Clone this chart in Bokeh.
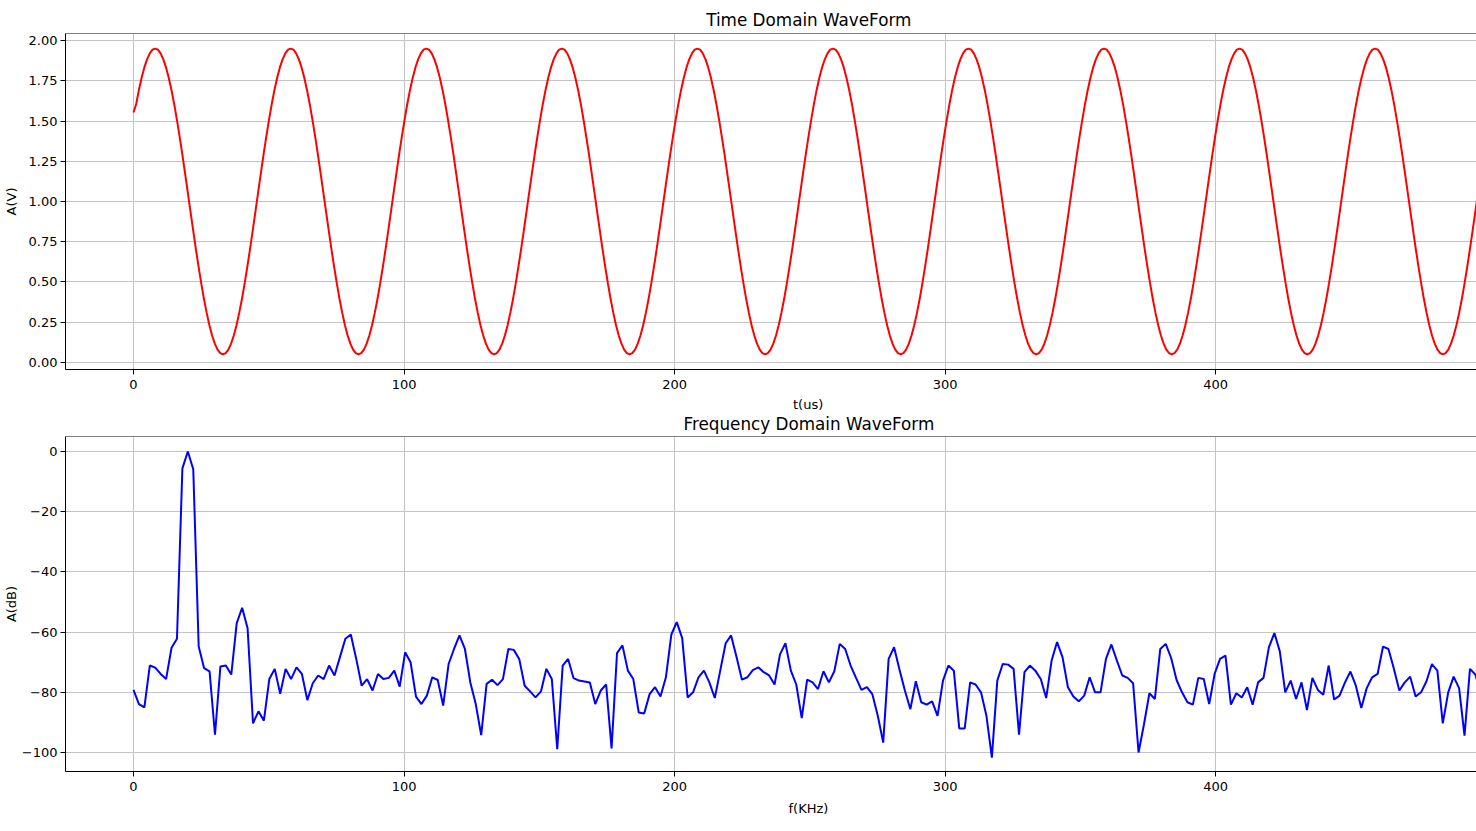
import numpy as np
from bokeh.plotting import figure
from bokeh.models import FixedTicker, Range1d, Span, Title, PrintfTickFormatter
from bokeh.layouts import column
from bokeh.embed import file_html
from bokeh.resources import INLINE

# ---------------- data ----------------
# time-domain samples (V), one row per 50-sample period
signal_v = (
    [1.553, 1.606, 1.693, 1.769, 1.833, 1.883, 1.920, 1.943, 1.950, 1.943, 1.920, 1.883, 1.833, 1.769, 1.693, 1.606, 1.509, 1.405, 1.294, 1.178, 1.060, 0.940, 0.822, 0.706, 0.596, 0.491, 0.394, 0.308, 0.231, 0.168, 0.117, 0.080, 0.058, 0.050, 0.058, 0.080, 0.117, 0.168, 0.231, 0.308, 0.394, 0.491, 0.596, 0.706, 0.822, 0.940, 1.060, 1.178, 1.294, 1.405]
    + [1.509, 1.606, 1.693, 1.769, 1.833, 1.883, 1.920, 1.943, 1.950, 1.943, 1.920, 1.883, 1.833, 1.769, 1.693, 1.606, 1.509, 1.405, 1.294, 1.178, 1.060, 0.940, 0.822, 0.706, 0.596, 0.491, 0.394, 0.308, 0.231, 0.168, 0.117, 0.080, 0.058, 0.050, 0.058, 0.080, 0.117, 0.168, 0.231, 0.308, 0.394, 0.491, 0.596, 0.706, 0.822, 0.940, 1.060, 1.178, 1.294, 1.405]
    + [1.509, 1.606, 1.693, 1.769, 1.833, 1.883, 1.920, 1.943, 1.950, 1.943, 1.920, 1.883, 1.833, 1.769, 1.693, 1.606, 1.509, 1.405, 1.294, 1.178, 1.060, 0.940, 0.822, 0.706, 0.596, 0.491, 0.394, 0.308, 0.231, 0.168, 0.117, 0.080, 0.058, 0.050, 0.058, 0.080, 0.117, 0.168, 0.231, 0.308, 0.394, 0.491, 0.596, 0.706, 0.822, 0.940, 1.060, 1.178, 1.294, 1.405]
    + [1.509, 1.606, 1.693, 1.769, 1.833, 1.883, 1.920, 1.943, 1.950, 1.943, 1.920, 1.883, 1.833, 1.769, 1.693, 1.606, 1.509, 1.405, 1.294, 1.178, 1.060, 0.940, 0.822, 0.706, 0.596, 0.491, 0.394, 0.308, 0.231, 0.168, 0.117, 0.080, 0.058, 0.050, 0.058, 0.080, 0.117, 0.168, 0.231, 0.308, 0.394, 0.491, 0.596, 0.706, 0.822, 0.940, 1.060, 1.178, 1.294, 1.405]
    + [1.509, 1.606, 1.693, 1.769, 1.833, 1.883, 1.920, 1.943, 1.950, 1.943, 1.920, 1.883, 1.833, 1.769, 1.693, 1.606, 1.509, 1.405, 1.294, 1.178, 1.060, 0.940, 0.822, 0.706, 0.596, 0.491, 0.394, 0.308, 0.231, 0.168, 0.117, 0.080, 0.058, 0.050, 0.058, 0.080, 0.117, 0.168, 0.231, 0.308, 0.394, 0.491, 0.596, 0.706, 0.822, 0.940, 1.060, 1.178, 1.294, 1.405]
    + [1.509, 1.606, 1.693, 1.769, 1.833, 1.883, 1.920, 1.943, 1.950, 1.943, 1.920, 1.883, 1.833, 1.769, 1.693, 1.606, 1.509, 1.405, 1.294, 1.178, 1.060, 0.940, 0.822, 0.706, 0.596, 0.491, 0.394, 0.308, 0.231, 0.168, 0.117, 0.080, 0.058, 0.050, 0.058, 0.080, 0.117, 0.168, 0.231, 0.308, 0.394, 0.491, 0.596, 0.706, 0.822, 0.940, 1.060, 1.178, 1.294, 1.405]
    + [1.509, 1.606, 1.693, 1.769, 1.833, 1.883, 1.920, 1.943, 1.950, 1.943, 1.920, 1.883, 1.833, 1.769, 1.693, 1.606, 1.509, 1.405, 1.294, 1.178, 1.060, 0.940, 0.822, 0.706, 0.596, 0.491, 0.394, 0.308, 0.231, 0.168, 0.117, 0.080, 0.058, 0.050, 0.058, 0.080, 0.117, 0.168, 0.231, 0.308, 0.394, 0.491, 0.596, 0.706, 0.822, 0.940, 1.060, 1.178, 1.294, 1.405]
    + [1.509, 1.606, 1.693, 1.769, 1.833, 1.883, 1.920, 1.943, 1.950, 1.943, 1.920, 1.883, 1.833, 1.769, 1.693, 1.606, 1.509, 1.405, 1.294, 1.178, 1.060, 0.940, 0.822, 0.706, 0.596, 0.491, 0.394, 0.308, 0.231, 0.168, 0.117, 0.080, 0.058, 0.050, 0.058, 0.080, 0.117, 0.168, 0.231, 0.308, 0.394, 0.491, 0.596, 0.706, 0.822, 0.940, 1.060, 1.178, 1.294, 1.405]
    + [1.509, 1.606, 1.693, 1.769, 1.833, 1.883, 1.920, 1.943, 1.950, 1.943, 1.920, 1.883, 1.833, 1.769, 1.693, 1.606, 1.509, 1.405, 1.294, 1.178, 1.060, 0.940, 0.822, 0.706, 0.596, 0.491, 0.394, 0.308, 0.231, 0.168, 0.117, 0.080, 0.058, 0.050, 0.058, 0.080, 0.117, 0.168, 0.231, 0.308, 0.394, 0.491, 0.596, 0.706, 0.822, 0.940, 1.060, 1.178, 1.294, 1.405]
    + [1.509, 1.606, 1.693, 1.769, 1.833, 1.883, 1.920, 1.943, 1.950, 1.943, 1.920, 1.883, 1.833, 1.769, 1.693, 1.606, 1.509, 1.405, 1.294, 1.178, 1.060, 0.940, 0.822, 0.706, 0.596, 0.491, 0.394, 0.308, 0.231, 0.168, 0.117, 0.080, 0.058, 0.050, 0.058, 0.080, 0.117, 0.168, 0.231, 0.308, 0.394, 0.491, 0.596, 0.706, 0.822, 0.940, 1.060, 1.178, 1.294, 1.405]
)
time_us = np.linspace(0, 500, len(signal_v))

# frequency-domain magnitude (dB)
spectrum_db = [
    -79.2, -83.9, -85.0, -71.1, -71.8, -73.9, -75.6, -65.2, -62.2, -5.6,
    0.0, -5.9, -64.8, -72.0, -73.0, -94.1, -71.4, -71.1, -74.1, -57.0,
    -51.9, -58.7, -90.3, -86.3, -89.4, -75.6, -72.2, -80.5, -72.2, -75.6,
    -71.7, -73.9, -82.6, -77.0, -74.4, -75.6, -71.1, -74.4, -68.3, -62.2,
    -60.8, -68.9, -77.8, -75.6, -79.4, -73.9, -75.6, -75.2, -72.8, -78.1,
    -66.7, -70.0, -81.4, -83.9, -81.1, -75.0, -75.9, -84.4, -70.6, -65.6,
    -61.1, -65.6, -76.7, -83.9, -94.2, -77.2, -75.8, -77.6, -75.6, -65.6,
    -65.9, -68.9, -77.8, -79.7, -81.7, -79.7, -72.2, -75.6, -98.9, -71.1,
    -68.9, -75.3, -76.1, -76.4, -76.7, -83.9, -79.4, -77.4, -98.6, -67.0,
    -64.4, -72.8, -75.6, -86.7, -87.0, -80.6, -78.3, -81.4, -75.0, -60.8,
    -56.7, -62.0, -81.7, -80.0, -75.0, -72.8, -76.7, -81.9, -72.8, -63.7,
    -61.1, -68.3, -75.8, -75.0, -72.6, -71.7, -73.3, -74.4, -77.4, -67.4,
    -63.7, -72.8, -77.4, -88.6, -75.8, -76.7, -78.9, -73.0, -76.7, -73.0,
    -63.9, -65.6, -71.1, -75.2, -79.2, -78.3, -80.6, -87.8, -96.7, -68.9,
    -65.0, -72.5, -79.5, -85.6, -76.3, -83.3, -84.1, -83.0, -87.8, -76.1,
    -71.1, -72.8, -92.0, -92.0, -76.7, -77.4, -80.0, -87.8, -101.7, -76.1,
    -70.6, -70.8, -72.2, -94.1, -73.3, -71.1, -72.8, -75.6, -81.9, -69.4,
    -63.3, -68.3, -78.3, -81.4, -83.0, -81.1, -75.0, -80.0, -80.0, -68.9,
    -64.1, -69.4, -74.4, -75.2, -77.0, -100.0, -90.6, -80.3, -82.2, -65.6,
    -63.9, -68.6, -75.9, -80.0, -83.3, -84.1, -75.2, -75.6, -83.9, -73.9,
    -68.9, -67.8, -84.1, -80.3, -81.7, -78.3, -84.1, -76.7, -75.2, -65.0,
    -60.3, -66.4, -80.0, -76.1, -82.2, -76.7, -85.9, -75.2, -79.2, -80.8,
    -71.1, -82.4, -81.1, -76.7, -73.1, -77.8, -85.2, -78.6, -75.0, -73.9,
    -64.8, -65.6, -72.2, -79.4, -76.7, -74.8, -81.4, -80.0, -76.3, -70.6,
    -72.8, -90.3, -80.0, -74.8, -78.6, -94.4, -72.2, -74.1, -80.5, -78.0,
]
freq_khz = np.linspace(0, 500, len(spectrum_db))

x_ticks = [0, 100, 200, 300, 400, 500]
volt_ticks = [0.0, 0.25, 0.5, 0.75, 1.0, 1.25, 1.5, 1.75, 2.0]
db_ticks = [-100, -80, -60, -40, -20, 0]
db_tick_labels = {-100: "\u2212100", -80: "\u221280", -60: "\u221260",
                  -40: "\u221240", -20: "\u221220", 0: "0"}

# ---------------- layout constants (pixels) ----------------
FONT = "DejaVu Sans"
W = 1476
FRAME_L = 65
X0_PX = 133.0          # pixel of x = 0
PX_PER_X = 2.7055      # pixels per x unit
X_START = (FRAME_L - X0_PX) / PX_PER_X
X_END = (W - X0_PX) / PX_PER_X


def style_axes(p, ylabel, ylabel_standoff):
    for ax in (p.xaxis[0], p.yaxis[0]):
        ax.axis_line_color = "black"
        ax.axis_line_width = 1
        ax.major_tick_line_color = "black"
        ax.major_tick_out = 5
        ax.major_tick_in = 0
        ax.minor_tick_line_color = None
        ax.major_label_text_font = FONT
        ax.major_label_text_font_size = "13px"
        ax.major_label_text_color = "black"
        ax.major_label_standoff = 3
        ax.axis_label_text_font = FONT
        ax.axis_label_text_font_size = "13px"
        ax.axis_label_text_font_style = "normal"
        ax.axis_label_text_color = "black"
    p.xaxis[0].major_label_standoff = 5
    p.xaxis[0].ticker = FixedTicker(ticks=x_ticks)
    p.yaxis[0].axis_label = ylabel
    p.yaxis[0].axis_label_standoff = ylabel_standoff
    for g in (p.xgrid[0], p.ygrid[0]):
        g.grid_line_color = "#c4c4c4"
        g.grid_line_width = 1
    p.outline_line_color = None
    p.background_fill_color = "white"
    p.border_fill_color = "white"


def make_title(text, size, left_px, standoff):
    return Title(text=text, align="left", offset=left_px - FRAME_L,
                 text_font=FONT, text_font_size=size, text_font_style="normal",
                 text_color="black", standoff=standoff)


# ---------------- top: time domain ----------------
Y1_LO, Y1_HI = -0.0435, 2.0435
p1 = figure(width=W, height=396, output_backend="svg", toolbar_location=None,
            x_range=Range1d(X_START, X_END), y_range=Range1d(Y1_LO, Y1_HI),
            min_border_left=FRAME_L, min_border_right=0,
            min_border_top=33, min_border_bottom=27)
style_axes(p1, "A(V)", 7)
p1.yaxis[0].ticker = FixedTicker(ticks=volt_ticks)
p1.yaxis[0].formatter = PrintfTickFormatter(format="%.2f")
p1.line(time_us, signal_v, line_color="#ff0000", line_width=2)
p1.add_layout(Span(location=Y1_HI, dimension="width", line_color="black", line_width=1))
p1.add_layout(make_title("Time Domain WaveForm", "16.8px", 705.7, 8), "above")

# ---------------- bottom: frequency domain ----------------
Y2_LO, Y2_HI = -106.3, 4.98
p2 = figure(width=W, height=429, output_backend="svg", toolbar_location=None,
            x_range=Range1d(X_START, X_END), y_range=Range1d(Y2_LO, Y2_HI),
            min_border_left=FRAME_L, min_border_right=0,
            min_border_top=40, min_border_bottom=54)
style_axes(p2, "A(dB)", 0)
p2.yaxis[0].ticker = FixedTicker(ticks=db_ticks)
p2.yaxis[0].major_label_overrides = db_tick_labels
p2.line(freq_khz, spectrum_db, line_color="#0000ff", line_width=2)
p2.add_layout(Span(location=Y2_HI, dimension="width", line_color="black", line_width=1))
# panels stack outward from the frame: subplot title first, then the x label of the top chart
p2.add_layout(make_title("Frequency Domain WaveForm", "16.8px", 683.0, 5), "above")
p2.add_layout(make_title("t(us)", "13px", 792.5, -4), "above")
p2.add_layout(make_title("f(KHz)", "13px", 788.0, 10), "below")

layout = column(p1, p2)
open("out.html", "w").write(file_html(layout, INLINE))
